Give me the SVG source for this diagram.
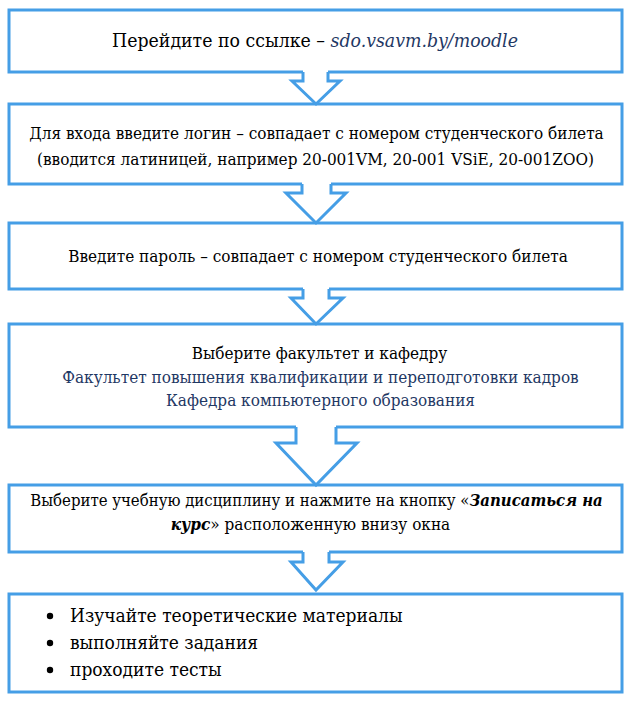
<svg xmlns="http://www.w3.org/2000/svg" width="630" height="716" viewBox="0 0 630 716">
<style>
.box{fill:#ffffff;stroke:#459ee6;stroke-width:3}
.af{fill:#ffffff;stroke:none}
.as{fill:none;stroke:#459ee6;stroke-width:3;stroke-linejoin:miter}
.t{font-family:'DejaVu Serif Condensed','DejaVu Serif','Liberation Serif',serif;font-stretch:condensed;font-size:17px;fill:#000000}
.big{font-size:19px}
.c{text-anchor:middle}
.n{fill:#1f3864}
.i{font-style:italic}
.bi{font-style:italic;font-weight:bold}
</style>
<rect width="630" height="716" fill="#ffffff"/>
<g id="node1">
<rect class="box" x="9" y="10" width="613" height="62"/>
<text class="t c" x="315" y="47" style="font-size:19.3px">Перейдите по ссылке – <tspan class="n i">sdo.vsavm.by/moodle</tspan></text>
</g>
<g id="node2">
<rect class="box" x="9" y="104" width="613" height="80"/>
<text class="t c" x="316.5" y="139">Для входа введите логин – совпадает с номером студенческого билета</text>
<text class="t c" x="315.5" y="165">(вводится латиницей, например 20-001VM, 20-001 VSiE, 20-001ZOO)</text>
</g>
<g id="node3">
<rect class="box" x="9" y="223" width="613" height="66"/>
<text class="t c" x="318" y="262">Введите пароль – совпадает с номером студенческого билета</text>
</g>
<g id="node4">
<rect class="box" x="9" y="324" width="613" height="103"/>
<text class="t c" x="319.5" y="359">Выберите факультет и кафедру</text>
<text class="t c n" x="320.5" y="383">Факультет повышения квалификации и переподготовки кадров</text>
<text class="t c n" x="320.5" y="406">Кафедра компьютерного образования</text>
</g>
<g id="node5">
<rect class="box" x="9" y="485" width="613" height="67"/>
<text class="t c" x="316.5" y="506" style="font-size:16.6px">Выберите учебную дисциплину и нажмите на кнопку «<tspan class="bi">Записаться на</tspan></text>
<text class="t c" x="310.5" y="530"><tspan class="bi">курс</tspan>» расположенную внизу окна</text>
</g>
<g id="node6">
<rect class="box" x="9" y="594" width="613" height="98"/>
<circle cx="50" cy="616" r="3.2" fill="#000000"/>
<circle cx="50" cy="643" r="3.2" fill="#000000"/>
<circle cx="50" cy="670" r="3.2" fill="#000000"/>
<text class="t big" x="70" y="622">Изучайте теоретические материалы</text>
<text class="t big" x="70" y="649">выполняйте задания</text>
<text class="t big" x="70" y="676">проходите тесты</text>
</g>
<g id="connectors">
<path class="af" d="M303,69 V81 H292 L316,104 L340,81 H328 V69 Z"/>
<polyline class="as" points="303,72 303,81 292,81 316,104 340,81 328,81 328,72"/>
<path class="af" d="M302,181 V193 H286 L316,223 L346,193 H331 V181 Z"/>
<polyline class="as" points="302,184 302,193 286,193 316,223 346,193 331,193 331,184"/>
<path class="af" d="M303,286 V298 H291 L316,324 L343,298 H329 V286 Z"/>
<polyline class="as" points="303,289 303,298 291,298 316,324 343,298 329,298 329,289"/>
<path class="af" d="M296,424 V443 H276 L316,485 L357,443 H336 V424 Z"/>
<polyline class="as" points="296,427 296,443 276,443 316,485 357,443 336,443 336,427"/>
<path class="af" d="M303,549 V562 H291 L316,590 L343,562 H329 V549 Z"/>
<polyline class="as" points="303,552 303,562 291,562 316,590 343,562 329,562 329,552"/>
</g>
</svg>
